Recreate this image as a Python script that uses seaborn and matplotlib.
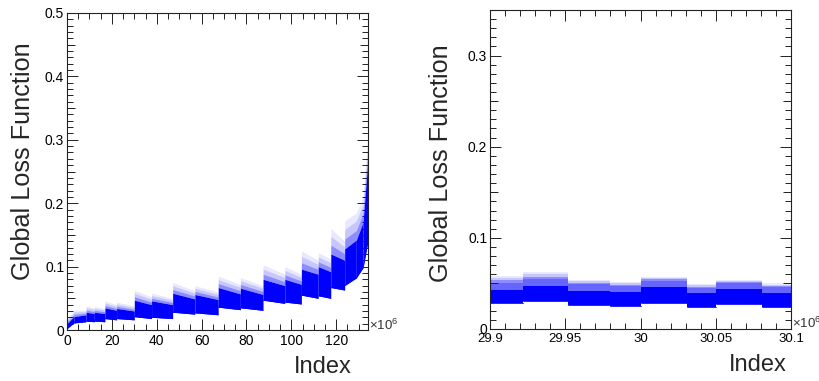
import matplotlib
matplotlib.use("Agg")
import matplotlib.pyplot as plt
import numpy as np
import pandas as pd
import seaborn as sns
from matplotlib.ticker import FixedLocator, MultipleLocator, FuncFormatter

# ---- left panel: whole run, index in units of 1e6 ----
full_edges = [0, 3, 8.5, 12.2, 16.9, 22.1, 30, 37.7, 47.1, 57, 67.4, 77.3,
              87.4, 97.1, 104.5, 112, 117.6, 123.8, 129, 132, 134.2]
full_low_start = [0.002, 0.011, 0.014, 0.014, 0.018, 0.018, 0.021, 0.020, 0.028, 0.027,
                  0.036, 0.035, 0.047, 0.044, 0.055, 0.054, 0.067, 0.070, 0.082, 0.098]
full_low_end = [0.011, 0.013, 0.013, 0.013, 0.016, 0.016, 0.018, 0.018, 0.025, 0.024,
                0.032, 0.031, 0.042, 0.041, 0.050, 0.050, 0.063, 0.082, 0.098, 0.140]
full_dense_start = [0.010, 0.021, 0.028, 0.028, 0.035, 0.034, 0.047, 0.046, 0.058, 0.056,
                    0.067, 0.066, 0.080, 0.080, 0.096, 0.100, 0.120, 0.128, 0.142, 0.170]
full_dense_end = [0.021, 0.024, 0.026, 0.026, 0.031, 0.030, 0.040, 0.040, 0.049, 0.048,
                  0.057, 0.056, 0.070, 0.072, 0.088, 0.092, 0.110, 0.142, 0.170, 0.270]
full_sparse_start = [0.018, 0.032, 0.038, 0.037, 0.046, 0.044, 0.063, 0.058, 0.075, 0.070,
                     0.085, 0.083, 0.103, 0.100, 0.125, 0.122, 0.160, 0.172, 0.185, 0.210]
full_sparse_end = [0.030, 0.031, 0.035, 0.034, 0.040, 0.038, 0.052, 0.050, 0.062, 0.060,
                   0.072, 0.070, 0.088, 0.088, 0.110, 0.112, 0.140, 0.185, 0.210, 0.310]

# ---- right panel: zoom around index 30e6 ----
zoom_edges = [29.9, 29.922, 29.952, 29.98, 30.0, 30.031, 30.05, 30.081, 30.1]
zoom_low = [0.028, 0.031, 0.026, 0.025, 0.029, 0.024, 0.027, 0.024]
zoom_dense = [0.043, 0.047, 0.042, 0.041, 0.046, 0.039, 0.044, 0.040]
zoom_spike = [0.051, 0.055, 0.049, 0.047, 0.053, 0.045, 0.050, 0.046]
zoom_sparse = [0.058, 0.062, 0.054, 0.052, 0.057, 0.049, 0.054, 0.050]

BLUE = "#0000ff"
W, H = 819, 381


def segments_frame(edges, lows, lows_end, dense, dense_end, sparse, sparse_end):
    rows = []
    for i in range(len(edges) - 1):
        rows.append((i, edges[i], lows[i], dense[i], sparse[i]))
        rows.append((i, edges[i + 1], lows_end[i], dense_end[i], sparse_end[i]))
    return pd.DataFrame(rows, columns=["seg", "x", "low", "dense", "sparse"])


def draw_band(ax, df, spike=None):
    for seg, g in df.groupby("seg"):
        ax.fill_between(g["x"], g["low"], g["dense"], color=BLUE, lw=0)
        top = g["dense"].values
        if spike is not None:
            ax.fill_between(g["x"], top, spike[seg], color=BLUE, alpha=0.6, lw=0)
            top = np.array([spike[seg], spike[seg]])
        span = g["sparse"].values - top
        for f0, f1, a in [(0, 0.35, 0.45), (0.35, 0.7, 0.22), (0.7, 1.0, 0.09)]:
            ax.fill_between(g["x"], top + f0 * span, top + f1 * span,
                            color=BLUE, alpha=a, lw=0)
    sns.lineplot(data=df, x="x", y="low", units="seg", estimator=None,
                 color=BLUE, lw=0.6, ax=ax)


def style_axis(ax, xmajor, xminor, ymajor, ymid, xlim, ylim, xfs, yfs):
    # medium ticks halfway between labelled y ticks (twin made first,
    # since twinx resets the tick sides of the host axis)
    tw = ax.twinx()
    tw.set_ylim(*ylim)
    tw.yaxis.set_major_locator(FixedLocator(ymid))
    tw.yaxis.set_minor_locator(FixedLocator([]))
    tw.tick_params(axis="y", which="major", direction="in", left=True, right=True,
                   labelleft=False, labelright=False, length=6,
                   width=0.7, colors="#222222")
    for s in tw.spines.values():
        s.set_visible(False)

    ax.set_xlim(*xlim)
    ax.set_ylim(*ylim)
    ax.xaxis.set_major_locator(FixedLocator(xmajor))
    ax.xaxis.set_minor_locator(MultipleLocator(xminor))
    ax.yaxis.set_major_locator(FixedLocator(ymajor))
    ax.yaxis.set_minor_locator(MultipleLocator(0.01))
    fmt = FuncFormatter(lambda v, p: "%g" % round(v, 4))
    ax.xaxis.set_major_formatter(fmt)
    ax.yaxis.set_major_formatter(fmt)
    ax.tick_params(which="both", direction="in", bottom=True, top=True,
                   left=True, right=True, labelright=False, labeltop=False,
                   colors="#222222", width=0.7)
    ax.tick_params(which="major", length=8)
    ax.tick_params(which="minor", length=4)
    ax.tick_params(axis="x", labelsize=xfs, pad=3, labelcolor="black")
    ax.tick_params(axis="y", labelsize=yfs, pad=2, labelcolor="black")
    ax.set_xlabel("")
    ax.set_ylabel("")
    for s in ax.spines.values():
        s.set_visible(True)
        s.set_linewidth(0.8)
        s.set_color("#222222")


sns.set_theme(style="ticks")
plt.rcParams["font.family"] = ["Liberation Sans", "DejaVu Sans"]
plt.rcParams["mathtext.fontset"] = "custom"
plt.rcParams["mathtext.rm"] = "Liberation Sans"

fig = plt.figure(figsize=(W / 100, H / 100), dpi=100)
ax1 = fig.add_axes([67 / W, 1 - 330 / H, 301 / W, 317 / H])
ax2 = fig.add_axes([490 / W, 1 - 329 / H, 301 / W, 319 / H])

full_df = segments_frame(full_edges, full_low_start, full_low_end,
                         full_dense_start, full_dense_end,
                         full_sparse_start, full_sparse_end)
draw_band(ax1, full_df)

zoom_df = segments_frame(zoom_edges, zoom_low, zoom_low, zoom_dense,
                         zoom_dense, zoom_sparse, zoom_sparse)
draw_band(ax2, zoom_df, spike=zoom_spike)

style_axis(ax1, [0, 20, 40, 60, 80, 100, 120], 5,
           [0, 0.1, 0.2, 0.3, 0.4, 0.5], [0.05, 0.15, 0.25, 0.35, 0.45],
           (0, 134.2), (0, 0.5), 10, 10)
style_axis(ax2, [29.9, 29.95, 30.0, 30.05, 30.1], 0.01,
           [0, 0.1, 0.2, 0.3], [0.05, 0.15, 0.25],
           (29.9, 30.1), (0, 0.35), 9.5, 10)

# axis titles and exponent labels, ROOT style
for cx, cy in [(23, 161), (441, 163)]:
    fig.text(cx / W, 1 - cy / H, "Global Loss Function", rotation=90,
             ha="center", va="center", fontsize=18.2)
for rx, cy in [(352, 367), (787, 365)]:
    fig.text(rx / W, 1 - cy / H, "Index", ha="right", va="center", fontsize=17)
for lx, cy in [(369, 325), (792, 323)]:
    fig.text(lx / W, 1 - cy / H, r"$\times$10$^{6}$", ha="left", va="center",
             fontsize=9.5, color="#333333")

fig.savefig("out.png", dpi=100)
